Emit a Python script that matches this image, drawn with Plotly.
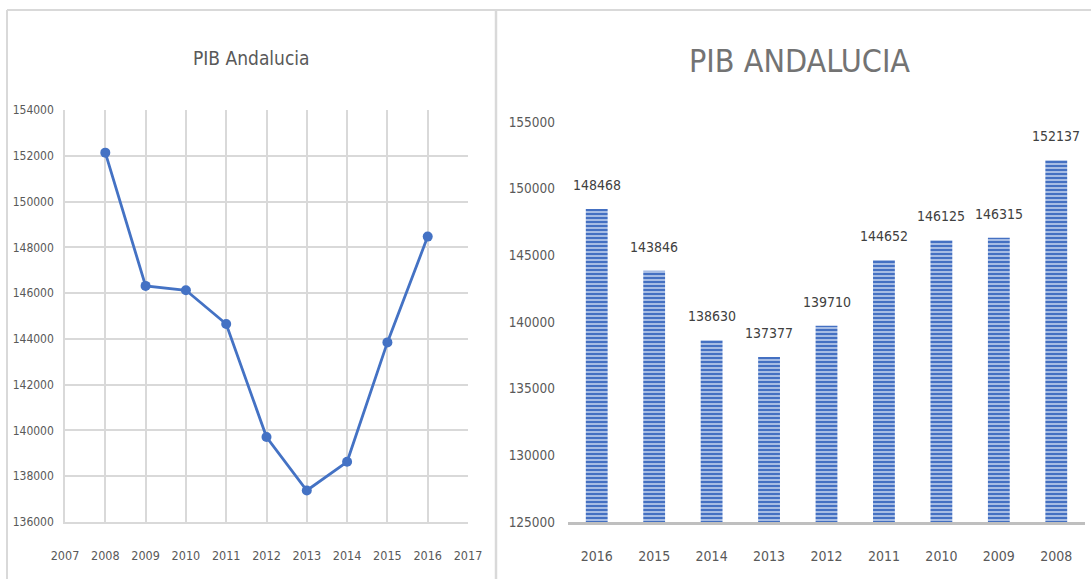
import plotly.graph_objects as go

# ---- data ----
years_line = [2008, 2009, 2010, 2011, 2012, 2013, 2014, 2015, 2016]
pib_line = [152137, 146315, 146125, 144652, 139710, 137377, 138630, 143846, 148468]

years_bar = ["2016", "2015", "2014", "2013", "2012", "2011", "2010", "2009", "2008"]
pib_bar = [148468, 143846, 138630, 137377, 139710, 144652, 146125, 146315, 152137]

title_left = "PIB Andalucia"
title_right = "PIB ANDALUCIA"

W, H = 1091, 579
FONT = "DejaVu Sans Condensed, Liberation Sans Narrow, Arial Narrow, sans-serif"
TXT = "#595959"
GRID = "#d9d9d9"
BLUE = "#4472C4"


def px(x):
    return x / W


def py(y):
    return 1 - y / H


fig = go.Figure()

fig.add_trace(go.Scatter(
    x=years_line, y=pib_line, mode="lines+markers",
    line=dict(color=BLUE, width=2.8),
    marker=dict(color=BLUE, size=10),
    xaxis="x", yaxis="y", showlegend=False,
))

fig.add_trace(go.Bar(
    x=years_bar, y=pib_bar,
    marker=dict(
        color=BLUE,
        line=dict(width=0),
        pattern=dict(shape="-", bgcolor="#4470c2", fgcolor="#bfd0ed",
                     size=4, solidity=0.4, fillmode="replace"),
    ),
    xaxis="x2", yaxis="y2", showlegend=False,
))

annotations = []
for i, v in enumerate(pib_bar):
    annotations.append(dict(
        x=i, y=v, xref="x2", yref="y2", text=str(v), showarrow=False,
        yanchor="bottom", yshift=14,
        font=dict(family=FONT, size=14, color="#404040"),
    ))

annotations.append(dict(
    x=px(251), y=py(58), xref="paper", yref="paper", text=title_left,
    showarrow=False, xanchor="center", yanchor="middle",
    font=dict(family=FONT, size=19, color=TXT),
))
annotations.append(dict(
    x=px(799), y=py(61), xref="paper", yref="paper", text=title_right,
    showarrow=False, xanchor="center", yanchor="middle",
    font=dict(family=FONT, size=32, color="#737373"),
))

shapes = [
    dict(type="line", xref="paper", yref="paper", x0=px(7), x1=1, y0=py(10), y1=py(10),
         line=dict(color=GRID, width=2)),
    dict(type="line", xref="paper", yref="paper", x0=px(7), x1=px(7), y0=py(10), y1=0,
         line=dict(color=GRID, width=2)),
    dict(type="line", xref="paper", yref="paper", x0=px(496), x1=px(496), y0=py(10), y1=0,
         line=dict(color=GRID, width=2.5)),
]

fig.update_layout(
    width=W, height=H,
    margin=dict(l=0, r=0, t=0, b=0, autoexpand=False),
    paper_bgcolor="white", plot_bgcolor="white",
    font=dict(family=FONT, color=TXT),
    bargap=0.62,
    annotations=annotations,
    shapes=shapes,
    xaxis=dict(
        domain=[px(65), px(468)], range=[2007, 2017], dtick=1, tick0=2007,
        showgrid=True, gridcolor=GRID, gridwidth=1.5,
        showline=True, linecolor=GRID, linewidth=2,
        ticks="", ticklabelstandoff=21, tickfont=dict(size=12.5, color=TXT),
        zeroline=False, anchor="y", automargin=False,
    ),
    yaxis=dict(
        domain=[py(522), py(110)], range=[136000, 154000], dtick=2000,
        showgrid=True, gridcolor=GRID, gridwidth=1.5,
        showline=True, linecolor=GRID, linewidth=1.5,
        ticks="", ticklabelstandoff=7, tickfont=dict(size=12, color=TXT),
        tickformat="d", zeroline=False, anchor="x", automargin=False,
    ),
    xaxis2=dict(
        domain=[px(568), px(1085)], type="category", range=[-0.5, 8.5],
        showgrid=False, showline=True, linecolor="#bfbfbf", linewidth=3,
        ticks="", ticklabelstandoff=19, tickfont=dict(size=14, color=TXT),
        anchor="y2", automargin=False,
    ),
    yaxis2=dict(
        domain=[py(522), py(122)], range=[125000, 155000], dtick=5000,
        showgrid=False, showline=False, zeroline=False,
        ticks="", ticklabelstandoff=12, tickfont=dict(size=13.5, color=TXT),
        tickformat="d", anchor="x2", automargin=False,
    ),
)

fig.write_html(
    "out.html",
    config={"displayModeBar": False},
    post_script="document.body.style.margin='0';document.body.style.overflow='hidden';",
)
